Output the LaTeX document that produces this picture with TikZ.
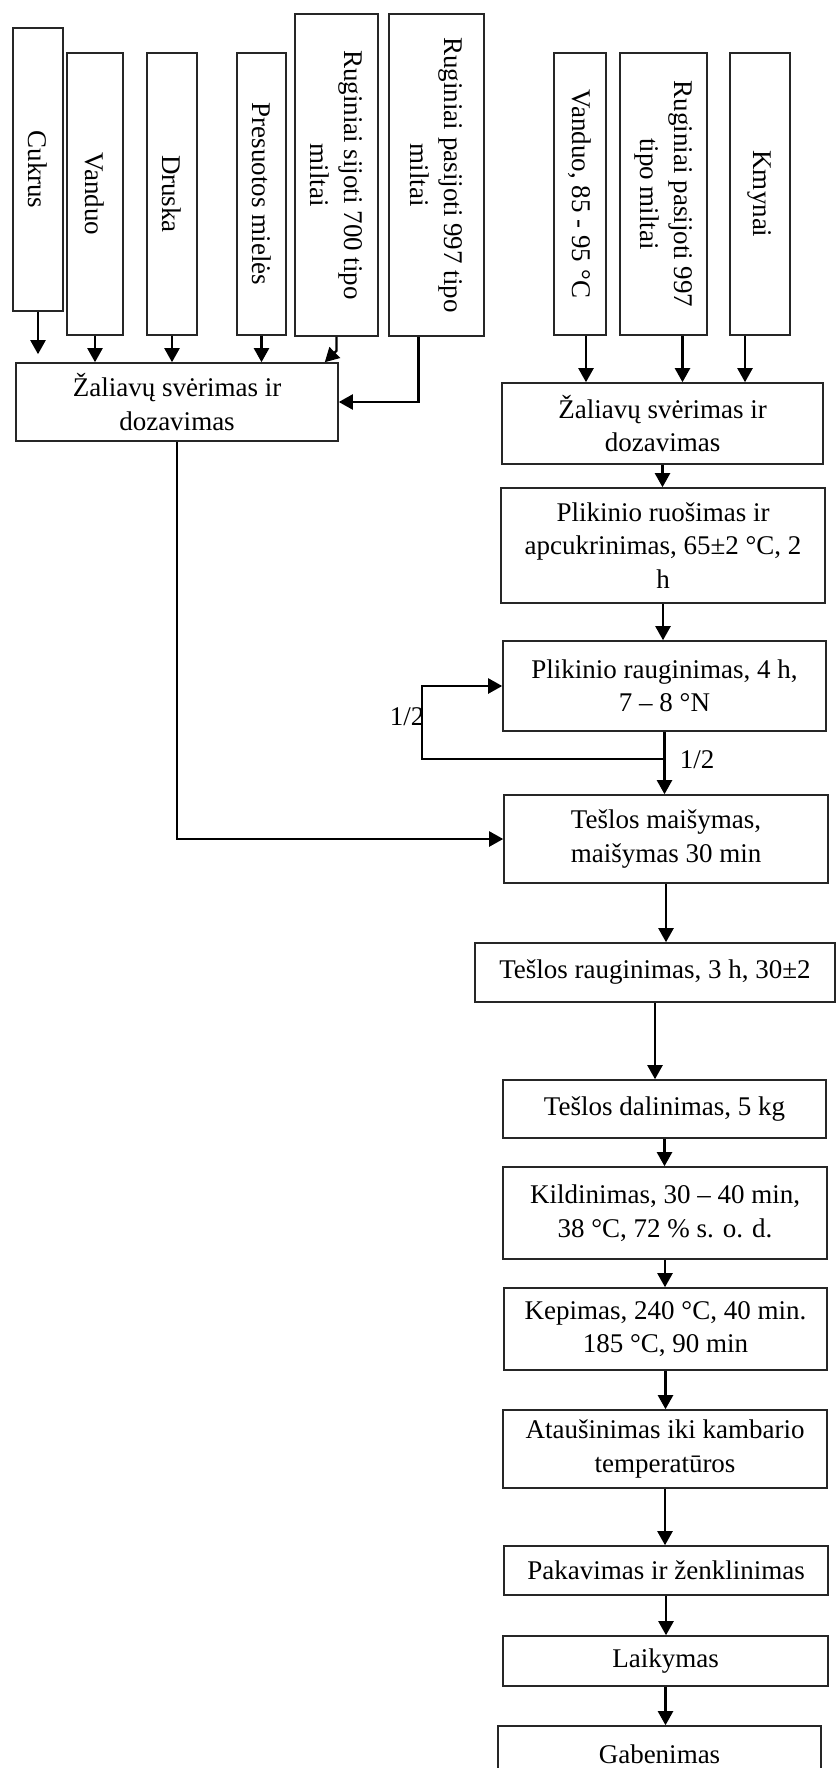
\documentclass[tikz,border=0pt]{standalone}
\usepackage{fontspec}
\setmainfont{Liberation Serif}
\usetikzlibrary{arrows.meta}
\begin{document}
\begin{tikzpicture}[x=1pt,y=-1pt,
  font=\fontsize{27}{33.5}\selectfont,
  box/.style={draw=black!85, line width=1.6pt, inner sep=0pt, align=center, rectangle},
  vbox/.style={box, rotate=-90},
  arr/.style={-{Triangle[length=14pt,width=15pt]}, line width=2.2pt, black},
  lbl/.style={inner sep=0pt}]
\useasboundingbox (0,0) rectangle (836,1768);
\clip (0,0) rectangle (836,1768);
% left ingredients
\node[vbox, minimum width=283pt, minimum height=50pt] (cuk) at (38,169.5) {Cukrus};
\node[vbox, minimum width=282pt, minimum height=56pt] (van) at (95,194) {Vanduo};
\node[vbox, minimum width=282pt, minimum height=50pt] (dru) at (172,194) {Druska};
\node[vbox, minimum width=282pt, minimum height=49pt] (pre) at (261.5,194) {Presuotos mielės};
\node[vbox, minimum width=322pt, minimum height=83pt] (sij) at (336.5,175) {Ruginiai sijoti 700 tipo\\miltai};
\node[vbox, minimum width=322pt, minimum height=95pt] (pas) at (436.5,175) {Ruginiai pasijoti 997 tipo\\miltai};
% right ingredients
\node[vbox, minimum width=282pt, minimum height=52pt] (v85) at (580,194) {Vanduo, 85 - 95 °C};
\node[vbox, minimum width=282pt, minimum height=87pt] (r97) at (663.5,194) {Ruginiai pasijoti 997\\tipo miltai};
\node[vbox, minimum width=282pt, minimum height=60pt] (kmy) at (760,194) {Kmynai};
% left weighing
\node[box, minimum width=322pt, minimum height=78pt] (lz) at (177,402) {Žaliavų svėrimas ir\\dozavimas};
% right chain
\node[box, minimum width=321pt, minimum height=81pt] (rz) at (662.5,423.5) {Žaliavų svėrimas ir\\dozavimas};
\node[box, minimum width=324pt, minimum height=115pt] (pru) at (663,545.5) {Plikinio ruošimas ir\\apcukrinimas, 65±2 °C, 2\\h};
\node[box, minimum width=323pt, minimum height=90pt] (pra) at (664.5,686) {Plikinio rauginimas, 4 h,\\7 – 8 °N};
\node[box, minimum width=324pt, minimum height=88pt] (tm) at (666,839) {Tešlos maišymas,\\maišymas 30 min};
\node[box, minimum width=360pt, minimum height=59pt] (tr) at (655,972.5) {Tešlos rauginimas, 3 h, 30±2};
\node[box, minimum width=323pt, minimum height=58pt] (td) at (664.5,1109) {Tešlos dalinimas, 5 kg};
\node[box, minimum width=324pt, minimum height=92pt] (kil) at (665,1213) {Kildinimas, 30 – 40 min,\\38 °C, 72 \% s. o. d.};
\node[box, minimum width=323pt, minimum height=82pt] (kep) at (665.5,1329) {Kepimas, 240 °C, 40 min.\\185 °C, 90 min};
\node[box, minimum width=324pt, minimum height=78pt] (ata) at (665,1449) {Ataušinimas iki kambario\\temperatūros};
\node[box, minimum width=324pt, minimum height=49pt] (pak) at (666,1570.5) {Pakavimas ir ženklinimas};
\node[box, minimum width=325pt, minimum height=50pt] (lai) at (665.5,1661) {Laikymas};
\node[box, minimum width=323pt, minimum height=56pt] (gab) at (659.5,1754) {Gabenimas};
% left ingredient arrows
\draw[arr] (cuk.east) -- ([yshift=8pt]cuk.east |- lz.north);
\draw[arr] (van.east) -- (van.east |- lz.north);
\draw[arr] (dru.east) -- (dru.east |- lz.north);
\draw[arr] (pre.east) -- (pre.east |- lz.north);
\draw[arr] (sij.east) -- ++(0,14) -- ([xshift=-14pt]lz.north east);
\coordinate (pasb) at ([xshift=-18pt]pas.east);
\draw[arr] (pasb) |- (lz.east);
% right ingredient arrows
\coordinate (a1) at ([xshift=6pt]v85.east);
\coordinate (a2) at ([xshift=19pt]r97.east);
\coordinate (a3) at ([xshift=-15pt]kmy.east);
\draw[arr] (a1) -- (a1 |- rz.north);
\draw[arr] (a2) -- (a2 |- rz.north);
\draw[arr] (a3) -- (a3 |- rz.north);
% right chain
\draw[arr] (rz.south) -- (rz.south |- pru.north);
\draw[arr] (pru.south) -- (pru.south |- pra.north);
\draw[arr] (pra.south) -- (pra.south |- tm.north);
\coordinate (split) at ([yshift=-27pt]pra.south);
\coordinate (loopc) at ([xshift=-80pt]pra.west);
\draw[arr] (split) -| (loopc) |- (pra.west);
\node[lbl] (h1) at (407,717) {1/2};
\node[lbl] (h2) at (697,760) {1/2};
\draw[arr] (lz.south) |- (tm.west);
\draw[arr] (tm.south) -- (tm.south |- tr.north);
\draw[arr] (tr.south) -- (tr.south |- td.north);
\draw[arr] (td.south) -- (td.south |- kil.north);
\draw[arr] (kil.south) -- (kil.south |- kep.north);
\draw[arr] (kep.south) -- (kep.south |- ata.north);
\draw[arr] (ata.south) -- (ata.south |- pak.north);
\draw[arr] (pak.south) -- (pak.south |- lai.north);
\draw[arr] (lai.south) -- (lai.south |- gab.north);
\end{tikzpicture}
\end{document}
